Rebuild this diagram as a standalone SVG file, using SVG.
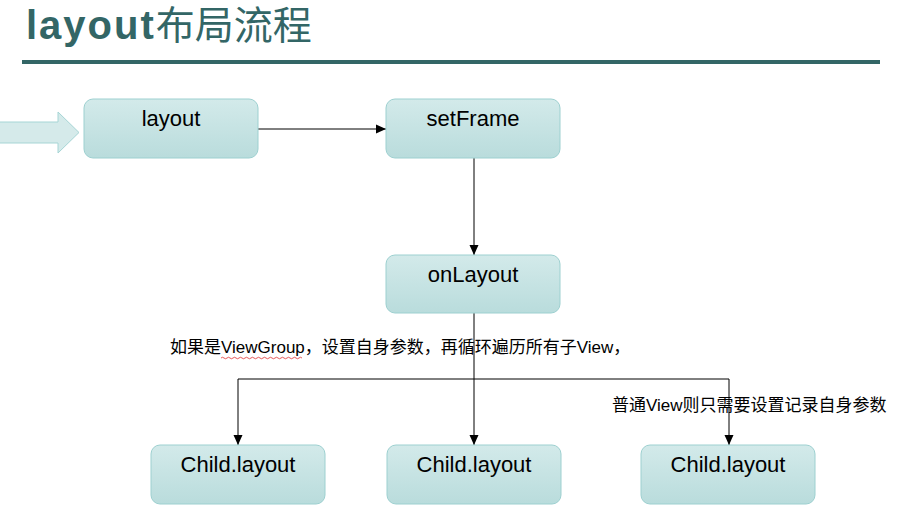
<svg xmlns="http://www.w3.org/2000/svg" width="913" height="523" viewBox="0 0 913 523">
  <defs>
    <linearGradient id="nodeGrad" x1="0" y1="0" x2="0" y2="1">
      <stop offset="0" stop-color="#d3eaea"/>
      <stop offset="1" stop-color="#b9dcdc"/>
    </linearGradient>
    <marker id="arrow" markerUnits="userSpaceOnUse" markerWidth="10" markerHeight="10" refX="10" refY="5" orient="auto">
      <path d="M0,0.5 L10,5 L0,9.5 z" fill="#000"/>
    </marker>
  </defs>
  <style>
    .node rect { fill: url(#nodeGrad); stroke: #9dd0d0; stroke-width: 1; }
    .node text { font-family: "Liberation Sans", Arial, sans-serif; font-size: 22px; fill: #000; text-anchor: middle; }
    .conn { fill: none; stroke: #000; stroke-width: 1; }
    .label { font-family: "Liberation Sans", "Noto Sans CJK SC", sans-serif; font-size: 17px; fill: #000; }
    .title { fill: #336666; font-family: "Liberation Sans", "Noto Sans CJK SC", sans-serif; }
  </style>
  <rect width="913" height="523" fill="#fff"/>

  <g id="title">
    <text class="title" x="26" y="39"><tspan font-weight="bold" font-size="40" letter-spacing="2">layout</tspan><tspan font-size="39" letter-spacing="0">布局流程</tspan></text>
    <rect x="22" y="60" width="858" height="4" fill="#336666"/>
  </g>

  <g id="entry-arrow">
    <path d="M-2,122 L58,122 L58,112 L79,132.5 L58,153 L58,143 L-2,143 z" fill="#d5eaea" stroke="#a6d5d5" stroke-width="1"/>
  </g>

  <g id="connectors">
    <line class="conn" x1="258" y1="129" x2="386" y2="129" marker-end="url(#arrow)"/>
    <line class="conn" x1="474" y1="158" x2="474" y2="255" marker-end="url(#arrow)"/>
    <line class="conn" x1="474" y1="313" x2="474" y2="445" stroke-width="1.5" marker-end="url(#arrow)"/>
    <polyline class="conn" points="474,379 238,379 238,445" marker-end="url(#arrow)"/>
    <line class="conn" x1="474" y1="379" x2="729" y2="379"/>
    <line class="conn" x1="729" y1="379" x2="729" y2="445" stroke="#707070" stroke-width="2" marker-end="url(#arrow)"/>
  </g>

  <g id="node-layout" class="node">
    <rect x="84" y="99" width="174" height="59" rx="9"/>
    <text x="171" y="126">layout</text>
  </g>
  <g id="node-setFrame" class="node">
    <rect x="386" y="99" width="174" height="59" rx="9"/>
    <text x="473" y="126">setFrame</text>
  </g>
  <g id="node-onLayout" class="node">
    <rect x="386" y="255" width="174" height="58" rx="9"/>
    <text x="473" y="282">onLayout</text>
  </g>
  <g id="node-child1" class="node">
    <rect x="151" y="445" width="174" height="59" rx="9"/>
    <text x="238" y="472">Child.layout</text>
  </g>
  <g id="node-child2" class="node">
    <rect x="387" y="445" width="174" height="59" rx="9"/>
    <text x="474" y="472">Child.layout</text>
  </g>
  <g id="node-child3" class="node">
    <rect x="641" y="445" width="174" height="59" rx="9"/>
    <text x="728" y="472">Child.layout</text>
  </g>

  <g id="labels">
    <text class="label" x="170" y="353">如果是ViewGroup，设置自身参数，再循环遍历所有子View，</text>
    <path d="M221,358 q1.5,-1.5 3,0 t3,0 t3,0 t3,0 t3,0 t3,0 t3,0 t3,0 t3,0 t3,0 t3,0 t3,0 t3,0 t3,0 t3,0 t3,0 t3,0 t3,0 t3,0 t3,0 t3,0 t3,0 t3,0 t3,0 t3,0 t3,0 t3,0" fill="none" stroke="#e03030" stroke-width="0.8"/>
    <text class="label" x="612" y="411">普通View则只需要设置记录自身参数</text>
  </g>
</svg>
